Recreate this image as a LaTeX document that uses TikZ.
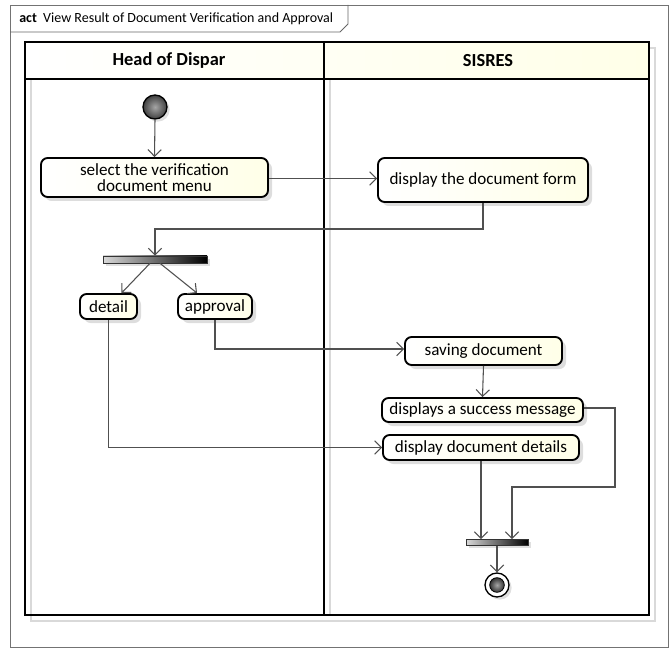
\documentclass[tikz,border=0pt]{standalone}
\usepackage{fontspec}
\setmainfont{Carlito}
\usetikzlibrary{arrows.meta,calc,shadows}
\definecolor{cream}{RGB}{255,255,232}
\definecolor{conn}{RGB}{80,80,80}
\tikzset{
  act/.style={draw=black, line width=1.4pt, rounded corners=5pt, left color=white, right color=cream,
    align=center, inner sep=1pt, font=\fontsize{12.8}{13.5}\selectfont,
    drop shadow={shadow xshift=3pt, shadow yshift=-3pt, fill=black!22, opacity=0.6}},
  bar/.style={draw=black!80, line width=0.5pt, left color=black!15, right color=black, inner sep=0pt,
    drop shadow={shadow xshift=2pt, shadow yshift=-2pt, fill=black!20, opacity=0.6}},
  flow/.style={draw=conn, line width=0.8pt, -{Straight Barb[length=5pt,width=10pt]}},
  lane/.style={draw=black, line width=1.3pt},
  lanesh/.style={draw=black!15, line width=1.5pt},
  hdr/.style={font=\bfseries\fontsize{13.8}{15}\selectfont},
}
\begin{document}
\begin{tikzpicture}[x=0.75pt,y=-0.75pt]
\useasboundingbox (0,0) rectangle (670,648);
% outer frame and title tab
\draw[draw=black!55, line width=0.6pt] (10,5) rectangle (668,647);
\draw[draw=black!60, line width=0.6pt] (10,32) -- (340,32) -- (348,24) -- (348,5);
\node[anchor=west, inner sep=0pt] (title) at (19,19) {\fontsize{10.5}{12}\selectfont\textbf{act}\ \ View Result of Document Verification and Approval};
% lane shadows
\draw[lanesh] (31,615) -- (31,621) -- (655,621) -- (655,48) -- (649,48);
\draw[lanesh] (31,79) -- (31,615);
\draw[lanesh] (330,79) -- (330,615);
% header
\shade[left color=white, right color=cream] (25,42) rectangle (649,79);
\draw[lane] (25,42) rectangle (649,615);
\draw[lane] (25,79) -- (649,79);
\draw[lane] (324,42) -- (324,615);
\node[hdr] (h1) at (169,60.5) {Head of Dispar};
\node[hdr] (h2) at (488,60.5) {SISRES};
% nodes
\node[circle, draw=black, line width=1pt, inner sep=0pt, minimum size=18pt,
  inner color=black!35, outer color=black!75,
  drop shadow={shadow xshift=2pt, shadow yshift=-2pt, fill=black!20, opacity=0.6}] (init) at (155,107) {};
\node[act, minimum width=227*0.75pt, minimum height=39*0.75pt] (select) at (154.5,177.5) {select the verification\\[-1pt] document menu};
\node[act, minimum width=210*0.75pt, minimum height=44*0.75pt] (form) at (483,180) {display the document form};
\node[bar, minimum width=104*0.75pt, minimum height=7*0.75pt] (fork) at (155,259.5) {};
\node[act, minimum width=57*0.75pt, minimum height=25*0.75pt] (detail) at (108.5,306.5) {detail};
\node[act, minimum width=74*0.75pt, minimum height=25*0.75pt] (approval) at (215,306.5) {approval};
\node[act, minimum width=157*0.75pt, minimum height=28*0.75pt] (saving) at (483.5,351) {saving document};
\node[act, minimum width=201*0.75pt, minimum height=24*0.75pt] (success) at (482.5,410) {displays a success message};
\node[act, minimum width=196*0.75pt, minimum height=25*0.75pt] (details) at (481,447.5) {display document details};
\node[bar, minimum width=62*0.75pt, minimum height=6*0.75pt] (join) at (497,542.5) {};
\node[circle, draw=black, line width=1pt, fill=white, inner sep=0pt, minimum size=18pt,
  drop shadow={shadow xshift=2pt, shadow yshift=-2pt, fill=black!20, opacity=0.6}] (final) at (497,585) {};
\node[circle, draw=black, line width=0.6pt, inner color=black!35, outer color=black!80, inner sep=0pt, minimum size=11pt] (finaldot) at (final.center) {};
% connectors
\coordinate (c1) at (155,229);
\coordinate (r1) at (615,487);
\coordinate (s1) at ($(select.east)+(0,1)$);
\draw[flow] (init.south) -- (select.north);
\draw[flow] (s1) -- (form.west |- s1);
\draw[flow] (form.south) |- (c1) -- (fork.north);
\draw[flow] ($(fork.south)+(-5,0)$) -- ($(detail.north)+(13,0)$);
\draw[flow] ($(fork.south)+(5,0)$) -- ($(approval.north)+(-18,0)$);
\draw[flow] (approval.south) |- ($(saving.west)+(0,-2)$);
\draw[flow] (detail.south) |- (details.west);
\draw[flow] (saving.south) -- (success.north);
\draw[flow] (details.south) -- (details.south |- join.north);
\draw[flow] ($(success.east)+(0,-2)$) -| (r1) -| ($(join.north)+(15,0)$);
\draw[flow] (join.south) -- (final.north);
\end{tikzpicture}
\end{document}
